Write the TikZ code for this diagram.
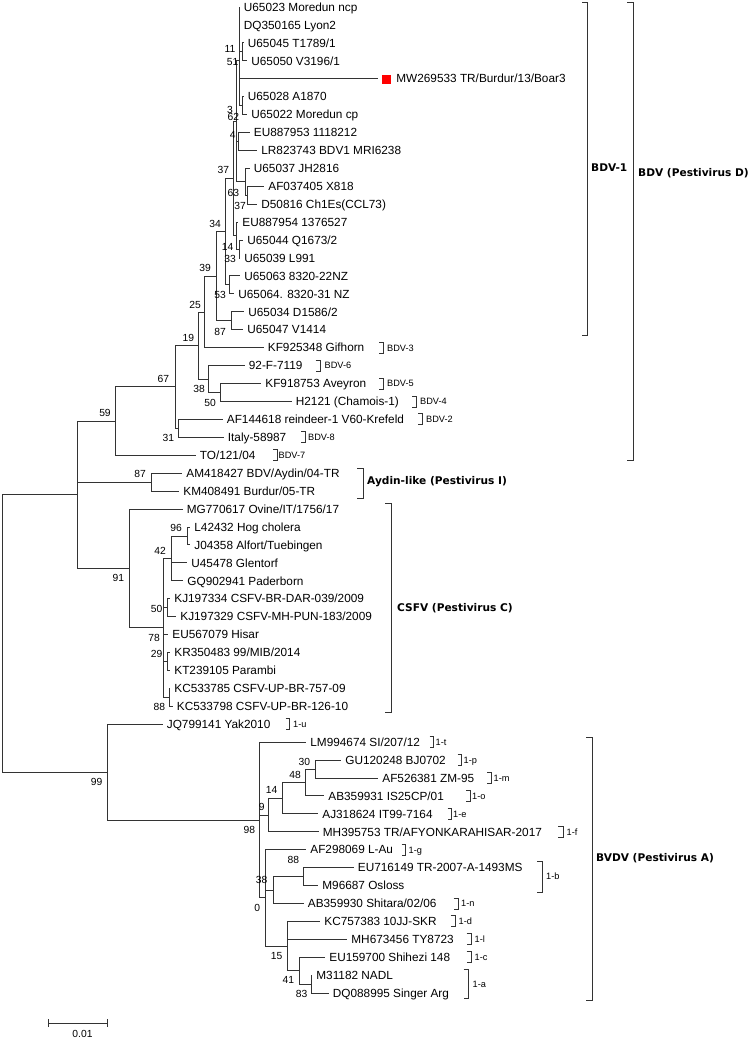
\documentclass[tikz,border=0pt]{standalone}
\usepackage{fontspec}
\setmainfont{Liberation Sans}
\newfontfamily\cladefont{DejaVu Sans}
\usetikzlibrary{arrows.meta}

\tikzset{
  elbow/.style={draw=black!80, line width=0.9pt, to path={|- (\tikztotarget)}},
  leaf/.style={anchor=west, inner xsep=4.2pt, inner ysep=0pt, text height=8.5pt, text depth=0pt, font=\fontsize{11.8}{13}\selectfont},
  boot/.style={inner sep=0pt, font=\fontsize{10.3}{12}\selectfont},
  sub/.style={anchor=west, inner sep=0pt, text height=6.6pt, text depth=0pt, font=\fontsize{9.2}{11}\selectfont},
  clade/.style={anchor=west, inner sep=0pt, font=\cladefont\bfseries\fontsize{10.6}{12}\selectfont},
  brk/.style={draw=black!80, line width=0.9pt}
}

\begin{document}
\begin{tikzpicture}[x=1pt, y=-1pt]
\useasboundingbox (0,0) rectangle (749,1041);

% leaves, BDV
\node[leaf] (u65023)   at (239.5,7)     {U65023 Moredun ncp};
\node[leaf] (dq350165) at (239.5,24.9)  {DQ350165 Lyon2};
\node[leaf] (u65045)   at (243.5,42.9)  {U65045 T1789/1};
\node[leaf] (u65050)   at (247,60.8)    {U65050 V3196/1};
\node[leaf] (mw269533) at (378,78.7)    {\textcolor{red}{\rule[-0.6pt]{9pt}{9pt}}\hspace{5pt}MW269533 TR/Burdur/13/Boar3};
\node[leaf] (u65028)   at (243.5,96.7)  {U65028 A1870};
\node[leaf] (u65022)   at (247,114.6)   {U65022 Moredun cp};
\node[leaf] (eu887953) at (249.5,132.5) {EU887953 1118212};
\node[leaf] (lr823743) at (257,150.4)   {LR823743 BDV1 MRI6238};
\node[leaf] (u65037)   at (249.5,168.4) {U65037 JH2816};
\node[leaf] (af037405) at (264,186.3)   {AF037405 X818};
\node[leaf] (d50816)   at (257,204.2)   {D50816 Ch1Es(CCL73)};
\node[leaf] (eu887954) at (238,222.2)   {EU887954 1376527};
\node[leaf] (u65044)   at (243,240.1)   {U65044 Q1673/2};
\node[leaf] (u65039)   at (240,258)     {U65039 L991};
\node[leaf] (u65063)   at (240,275.9)   {U65063 8320-22NZ};
\node[leaf] (u65064)   at (234,293.9)   {U65064. 8320-31 NZ};
\node[leaf] (u65034)   at (244,311.8)   {U65034 D1586/2};
\node[leaf] (u65047)   at (243,329.7)   {U65047 V1414};
\node[leaf] (kf925348) at (263.5,347.7) {KF925348 Gifhorn};
\node[leaf] (f7119)    at (244.5,365.6) {92-F-7119};
\node[leaf] (kf918753) at (261,383.5)   {KF918753 Aveyron};
\node[leaf] (h2121)    at (291.5,401.5) {H2121 (Chamois-1)};
\node[leaf] (af144618) at (222.5,419.4) {AF144618 reindeer-1 V60-Krefeld};
\node[leaf] (it58987)  at (223.5,437.3) {Italy-58987};
\node[leaf] (to12104)  at (195.5,455.2) {TO/121/04};
% leaves, Aydin-like and CSFV
\node[leaf] (am418427) at (182,473.2)   {AM418427 BDV/Aydin/04-TR};
\node[leaf] (km408491) at (179,491.1)   {KM408491 Burdur/05-TR};
\node[leaf] (mg770617) at (182.5,509)   {MG770617 Ovine/IT/1756/17};
\node[leaf] (l42432)   at (190,527)     {L42432 Hog cholera};
\node[leaf] (j04358)   at (190,544.9)   {J04358 Alfort/Tuebingen};
\node[leaf] (u45478)   at (187,562.8)   {U45478 Glentorf};
\node[leaf] (gq902941) at (183,580.8)   {GQ902941 Paderborn};
\node[leaf] (kj197334) at (170,598.7)   {KJ197334 CSFV-BR-DAR-039/2009};
\node[leaf] (kj197329) at (176,616.6)   {KJ197329 CSFV-MH-PUN-183/2009};
\node[leaf] (eu567079) at (168,634.6)   {EU567079 Hisar};
\node[leaf] (kr350483) at (170,652.5)   {KR350483 99/MIB/2014};
\node[leaf] (kt239105) at (170,670.4)   {KT239105 Parambi};
\node[leaf] (kc533785) at (170,688.3)   {KC533785 CSFV-UP-BR-757-09};
\node[leaf] (kc533798) at (172.5,706.3) {KC533798 CSFV-UP-BR-126-10};
% leaves, BVDV
\node[leaf] (jq799141) at (162.5,724.2) {JQ799141 Yak2010};
\node[leaf] (lm994674) at (306,742.1)   {LM994674 SI/207/12};
\node[leaf] (gu120248) at (341,760.1)   {GU120248 BJ0702};
\node[leaf] (af526381) at (378,778)     {AF526381 ZM-95};
\node[leaf] (ab359931) at (324,795.9)   {AB359931 IS25CP/01};
\node[leaf] (aj318624) at (318,813.9)   {AJ318624 IT99-7164};
\node[leaf] (mh395753) at (318.5,831.8) {MH395753 TR/AFYONKARAHISAR-2017};
\node[leaf] (af298069) at (306,849.7)   {AF298069 L-Au};
\node[leaf] (eu716149) at (353.5,867.6) {EU716149 TR-2007-A-1493MS};
\node[leaf] (m96687)   at (318,885.6)   {M96687 Osloss};
\node[leaf] (ab359930) at (303.5,903.5) {AB359930 Shitara/02/06};
\node[leaf] (kc757383) at (320,921.4)   {KC757383 10JJ-SKR};
\node[leaf] (mh673456) at (347,939.4)   {MH673456 TY8723};
\node[leaf] (eu159700) at (325,957.3)   {EU159700 Shihezi 148};
\node[leaf] (m31182)   at (312,975.2)   {M31182 NADL};
\node[leaf] (dq088995) at (328.5,993.2) {DQ088995 Singer Arg};

% inner nodes
\coordinate (root)   at (2,633);
\coordinate (pest)   at (77,494.7);
\coordinate (bdv59)  at (115,421);
\coordinate (bdv67)  at (175,386.9);
\coordinate (bdv31)  at (178,428.4);
\coordinate (bdv19)  at (198,345.5);
\coordinate (bdv38)  at (208,379);
\coordinate (bdv50)  at (220,392.5);
\coordinate (bdv25)  at (204,312);
\coordinate (bdv39)  at (216,276.2);
\coordinate (bdv87)  at (231,320.8);
\coordinate (bdv34)  at (225,231.6);
\coordinate (bdv53)  at (229,284.9);
\coordinate (bdv37)  at (233.3,178.3);
\coordinate (bdv14)  at (236.7,235.6);
\coordinate (bdv33)  at (239.3,249.1);
\coordinate (bdv62)  at (236.7,121);
\coordinate (bdv63)  at (245,181.8);
\coordinate (bdv37b) at (247,195.3);
\coordinate (bdv4)   at (238.3,141.5);
\coordinate (bdv51)  at (239.3,60);
\coordinate (bdv11)  at (242,51.9);
\coordinate (bdv3)   at (242,105.7);
\coordinate (ayd87)  at (151,482.2);
\coordinate (csf91)  at (129,568.4);
\coordinate (csf78)  at (163.5,627.9);
\coordinate (csf42)  at (171,558.4);
\coordinate (csf96)  at (187,536);
\coordinate (csf50)  at (167,607.7);
\coordinate (csf29)  at (167,661.5);
\coordinate (csf88)  at (169,697.3);
\coordinate (bvd99)  at (107,772.1);
\coordinate (bvd98)  at (259,820);
\coordinate (bvd9)   at (268,815);
\coordinate (bvd14)  at (282,798.2);
\coordinate (bvd48)  at (305,782.5);
\coordinate (bvd30)  at (315,769);
\coordinate (bvd0)   at (265,897.9);
\coordinate (bvd38)  at (273,890);
\coordinate (bvd88)  at (303,876.6);
\coordinate (bvd15)  at (287,946);
\coordinate (bvd41)  at (299,970.8);
\coordinate (bvd83)  at (311,984.2);

% branches
\path (root) edge[elbow] (pest) edge[elbow] (bvd99)
  (pest) edge[elbow] (bdv59) edge[elbow] (ayd87) edge[elbow] (csf91)
  (bdv59) edge[elbow] (bdv67) edge[elbow] (to12104)
  (bdv67) edge[elbow] (bdv19) edge[elbow] (bdv31)
  (bdv31) edge[elbow] (af144618) edge[elbow] (it58987)
  (bdv19) edge[elbow] (bdv25) edge[elbow] (bdv38)
  (bdv38) edge[elbow] (f7119) edge[elbow] (bdv50)
  (bdv50) edge[elbow] (kf918753) edge[elbow] (h2121)
  (bdv25) edge[elbow] (bdv39) edge[elbow] (kf925348)
  (bdv39) edge[elbow] (bdv34) edge[elbow] (bdv87)
  (bdv87) edge[elbow] (u65034) edge[elbow] (u65047)
  (bdv34) edge[elbow] (bdv37) edge[elbow] (bdv53)
  (bdv53) edge[elbow] (u65063) edge[elbow] (u65064)
  (bdv37) edge[elbow] (bdv62) edge[elbow] (bdv14)
  (bdv14) edge[elbow] (eu887954) edge[elbow] (bdv33)
  (bdv33) edge[elbow] (u65044) edge[elbow] (u65039)
  (bdv62) edge[elbow] (bdv51) edge[elbow] (bdv4) edge[elbow] (bdv63)
  (bdv63) edge[elbow] (u65037) edge[elbow] (bdv37b)
  (bdv37b) edge[elbow] (af037405) edge[elbow] (d50816)
  (bdv4) edge[elbow] (eu887953) edge[elbow] (lr823743)
  (bdv51) edge[elbow] (u65023) edge[elbow] (dq350165) edge[elbow] (bdv11)
          edge[elbow] (mw269533) edge[elbow] (bdv3)
  (bdv11) edge[elbow] (u65045) edge[elbow] (u65050)
  (bdv3) edge[elbow] (u65028) edge[elbow] (u65022);
\path (ayd87) edge[elbow] (am418427) edge[elbow] (km408491)
  (csf91) edge[elbow] (mg770617) edge[elbow] (csf78)
  (csf78) edge[elbow] (csf42) edge[elbow] (csf50) edge[elbow] (eu567079)
          edge[elbow] (csf29) edge[elbow] (csf88)
  (csf42) edge[elbow] (csf96) edge[elbow] (u45478) edge[elbow] (gq902941)
  (csf96) edge[elbow] (l42432) edge[elbow] (j04358)
  (csf50) edge[elbow] (kj197334) edge[elbow] (kj197329)
  (csf29) edge[elbow] (kr350483) edge[elbow] (kt239105)
  (csf88) edge[elbow] (kc533785) edge[elbow] (kc533798);
\path (bvd99) edge[elbow] (jq799141) edge[elbow] (bvd98)
  (bvd98) edge[elbow] (lm994674) edge[elbow] (bvd9) edge[elbow] (bvd0)
  (bvd9) edge[elbow] (bvd14) edge[elbow] (mh395753)
  (bvd14) edge[elbow] (bvd48) edge[elbow] (aj318624)
  (bvd48) edge[elbow] (bvd30) edge[elbow] (ab359931)
  (bvd30) edge[elbow] (gu120248) edge[elbow] (af526381)
  (bvd0) edge[elbow] (af298069) edge[elbow] (bvd38) edge[elbow] (bvd15)
  (bvd38) edge[elbow] (bvd88) edge[elbow] (ab359930)
  (bvd88) edge[elbow] (eu716149) edge[elbow] (m96687)
  (bvd15) edge[elbow] (kc757383) edge[elbow] (mh673456) edge[elbow] (bvd41)
  (bvd41) edge[elbow] (eu159700) edge[elbow] (bvd83)
  (bvd83) edge[elbow] (m31182) edge[elbow] (dq088995);

% bootstrap values
\node[boot] (bs-bdv11)  at (230,49.3)  {11};
\node[boot] (bs-bdv51)  at (232.7,62.3) {51};
\node[boot] (bs-bdv3)   at (230,110)   {3};
\node[boot] (bs-bdv62)  at (233.3,116.7) {62};
\node[boot] (bs-bdv4)   at (232.7,135) {4};
\node[boot] (bs-bdv37)  at (223.3,170) {37};
\node[boot] (bs-bdv63)  at (233.3,192.7) {63};
\node[boot] (bs-bdv37b) at (240,205.7) {37};
\node[boot] (bs-bdv34)  at (215,224)   {34};
\node[boot] (bs-bdv14)  at (227.7,246.7) {14};
\node[boot] (bs-bdv33)  at (230,259.3) {33};
\node[boot] (bs-bdv39)  at (205,268.3) {39};
\node[boot] (bs-bdv53)  at (220,295)   {53};
\node[boot] (bs-bdv25)  at (195,305)   {25};
\node[boot] (bs-bdv87)  at (220,331.7) {87};
\node[boot] (bs-bdv19)  at (188.3,337.7) {19};
\node[boot] (bs-bdv67)  at (163.3,379.3) {67};
\node[boot] (bs-bdv38)  at (199,389)   {38};
\node[boot] (bs-bdv50)  at (210,402.7) {50};
\node[boot] (bs-bdv59)  at (105,413.3) {59};
\node[boot] (bs-bdv31)  at (168.3,437.7) {31};
\node[boot] (bs-ayd87)  at (140,474.3) {87};
\node[boot] (bs-csf96)  at (176,528.3) {96};
\node[boot] (bs-csf42)  at (160,551)   {42};
\node[boot] (bs-csf91)  at (118.3,578.3) {91};
\node[boot] (bs-csf50)  at (156.7,609) {50};
\node[boot] (bs-csf78)  at (154,637.7) {78};
\node[boot] (bs-csf29)  at (156.7,654.3) {29};
\node[boot] (bs-csf88)  at (159.3,706.7) {88};
\node[boot] (bs-bvd99)  at (96.7,781.7) {99};
\node[boot] (bs-bvd30)  at (304.3,761.7) {30};
\node[boot] (bs-bvd48)  at (295,775)   {48};
\node[boot] (bs-bvd14)  at (271.7,790) {14};
\node[boot] (bs-bvd9)   at (261.7,806.7) {9};
\node[boot] (bs-bvd98)  at (249.3,830) {98};
\node[boot] (bs-bvd88)  at (293.3,860) {88};
\node[boot] (bs-bvd38)  at (261.7,880) {38};
\node[boot] (bs-bvd0)   at (257.3,907.7) {0};
\node[boot] (bs-bvd15)  at (276.7,956) {15};
\node[boot] (bs-bvd41)  at (288.3,980) {41};
\node[boot] (bs-bvd83)  at (301.7,994.3) {83};

% genotype brackets
\node[sub] (g-bdv3) at (387,347.7) {BDV-3};
\draw[brk] (379,342.2) -| (383.5,353.2) -- (379,353.2);
\node[sub] (g-bdv6) at (324.5,365.6) {BDV-6};
\draw[brk] (315.5,360.1) -| (320,371.1) -- (315.5,371.1);
\node[sub] (g-bdv5) at (387,383.5) {BDV-5};
\draw[brk] (379,378) -| (383.5,389) -- (379,389);
\node[sub] (g-bdv4) at (420,401.5) {BDV-4};
\draw[brk] (412,396) -| (416.5,407) -- (412,407);
\node[sub] (g-bdv2) at (426,419.4) {BDV-2};
\draw[brk] (418,413.9) -| (422.5,424.9) -- (418,424.9);
\node[sub] (g-bdv8) at (308,437.3) {BDV-8};
\draw[brk] (301,431.8) -| (305,442.8) -- (301,442.8);
\node[sub] (g-bdv7) at (278.5,455.2) {BDV-7};
\draw[brk] (273,449.7) -| (277,460.7) -- (273,460.7);
\node[sub] (g-1u) at (293,724.2) {1-u};
\draw[brk] (285.5,718.7) -| (289.5,729.7) -- (285.5,729.7);
\node[sub] (g-1t) at (435.5,742.1) {1-t};
\draw[brk] (429.5,736.6) -| (433.5,747.6) -- (429.5,747.6);
\node[sub] (g-1p) at (463.5,760.1) {1-p};
\draw[brk] (457.5,754.6) -| (461.5,765.6) -- (457.5,765.6);
\node[sub] (g-1m) at (493.5,778) {1-m};
\draw[brk] (487,772.5) -| (491,783.5) -- (487,783.5);
\node[sub] (g-1o) at (472,795.9) {1-o};
\draw[brk] (466,790.4) -| (470,801.4) -- (466,801.4);
\node[sub] (g-1e) at (453,813.9) {1-e};
\draw[brk] (447.5,808.4) -| (451.5,819.4) -- (447.5,819.4);
\node[sub] (g-1f) at (566.5,831.8) {1-f};
\draw[brk] (558,826.3) -| (563,837.3) -- (558,837.3);
\node[sub] (g-1g) at (408.5,849.7) {1-g};
\draw[brk] (401.5,844.2) -| (405.5,855.2) -- (401.5,855.2);
\node[sub] (g-1b) at (546,876.6) {1-b};
\draw[brk] (537,861.5) -| (542.5,892) -- (537,892);
\node[sub] (g-1n) at (461,903.5) {1-n};
\draw[brk] (453.5,898) -| (458,909) -- (453.5,909);
\node[sub] (g-1d) at (458.5,921.4) {1-d};
\draw[brk] (450.5,915.9) -| (455,926.9) -- (450.5,926.9);
\node[sub] (g-1l) at (474.5,939.4) {1-l};
\draw[brk] (466.5,933.9) -| (471,944.9) -- (466.5,944.9);
\node[sub] (g-1c) at (474.5,957.3) {1-c};
\draw[brk] (466.5,951.8) -| (471,962.8) -- (466.5,962.8);
\node[sub] (g-1a) at (472.5,984.2) {1-a};
\draw[brk] (463.5,969.5) -| (468.5,998.5) -- (463.5,998.5);

% species brackets
\node[clade] (c-bdv1) at (591,168) {BDV-1};
\draw[brk] (582,2) -| (587,335) -- (582,335);
\node[clade] (c-bdv) at (638,173) {BDV (Pestivirus D)};
\draw[brk] (627,2) -| (633,460) -- (627,460);
\node[clade] (c-ayd) at (367,482) {Aydin-like (Pestivirus I)};
\draw[brk] (357,468) -| (363,498) -- (357,498);
\node[clade] (c-csfv) at (397,608) {CSFV (Pestivirus C)};
\draw[brk] (385,503) -| (391,712) -- (385,712);
\node[clade] (c-bvdv) at (596,858) {BVDV (Pestivirus A)};
\draw[brk] (586,737) -| (592,1000) -- (586,1000);

% scale bar
\coordinate (sb0) at (48,1023);
\coordinate (sb1) at (108,1023);
\draw[brk, {Bar[width=8pt]}-{Bar[width=8pt]}] (sb0) -- (sb1);
\node[boot] (sbtext) at (82.5,1034) {0.01};
\end{tikzpicture}
\end{document}
